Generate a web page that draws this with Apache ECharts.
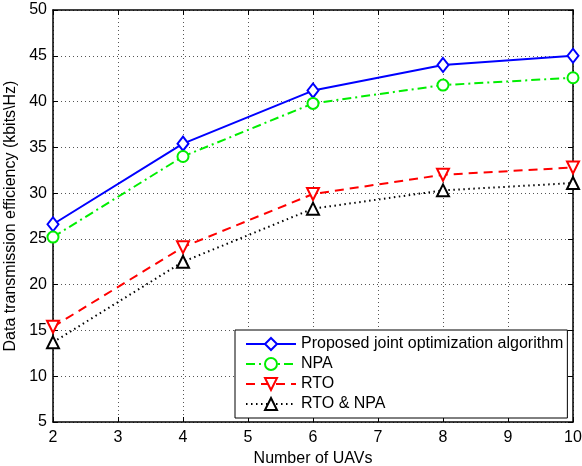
<!DOCTYPE html>
<html>
<head>
<meta charset="utf-8">
<script src="https://cdn.jsdelivr.net/npm/echarts@6/dist/echarts.min.js"></script>
<style>
  html, body { margin: 0; padding: 0; background: #fff; }
  #chart { width: 582px; height: 466px; }
</style>
</head>
<body>
<div id="chart"></div>
<script>
var uavs = [2, 4, 6, 8, 10];
var proposed = [26.6, 35.4, 41.2, 44.0, 45.0];
var npa = [25.2, 34.0, 39.8, 41.8, 42.6];
var rto = [15.4, 24.1, 29.9, 32.0, 32.8];
var rtoNpa = [13.7, 22.5, 28.3, 30.3, 31.1];

var font = 'Liberation Sans, Arial, Helvetica, sans-serif';

function pairs(vals) {
	return uavs.map(function(x, i){ return [x, vals[i]]; });
}

function makeSeries(name, vals, color, dash, symbol, size, rotate) {
	return {
		name: name,
		type: 'line',
		data: pairs(vals),
		symbol: symbol,
		symbolSize: size,
		symbolRotate: rotate || 0,
		showAllSymbol: true,
		lineStyle: { color: color, width: 2, type: dash },
		itemStyle: { color: '#fff', borderColor: color, borderWidth: 2 },
		emphasis: { disabled: true },
		animation: false,
		z: 3
	};
}

var chart = echarts.init(document.getElementById('chart'));
var gridLine = { show: true, lineStyle: { color: '#555', width: 1, type: [1, 3] } };
var option = {
	backgroundColor: '#fff',
	animation: false,
	grid: { left: 53, right: 9, top: 10, bottom: 44, containLabel: false, outerBoundsMode: 'none' },
	legend: {
		orient: 'vertical',
		left: 235,
		top: 330,
		itemWidth: 50,
		itemHeight: 15,
		itemGap: 4,
		padding: [6, 4, 6, 10],
		borderColor: '#000',
		borderWidth: 1,
		borderRadius: 0,
		backgroundColor: '#fff',
		textStyle: { fontFamily: font, fontSize: 16, color: '#000' },
		data: ['Proposed joint optimization algorithm', 'NPA', 'RTO', 'RTO & NPA']
	},
	xAxis: [{
		type: 'value',
		min: 2, max: 10, interval: 1,
		name: 'Number of UAVs',
		nameLocation: 'middle',
		nameGap: 27,
		nameTextStyle: { fontFamily: font, fontSize: 16, color: '#000' },
		axisLine: { onZero: false, lineStyle: { color: '#000', width: 1.5 } },
		axisTick: { inside: true, length: 5, lineStyle: { color: '#000' } },
		axisLabel: { fontFamily: font, fontSize: 16, color: '#000', margin: 8 },
		splitLine: gridLine
	}, {
		type: 'value', position: 'top',
		min: 2, max: 10, interval: 1,
		axisLine: { onZero: false, lineStyle: { color: '#000', width: 1.5 } },
		axisTick: { inside: true, length: 5, lineStyle: { color: '#000' } },
		axisLabel: { show: false },
		splitLine: { show: false }
	}],
	yAxis: [{
		type: 'value',
		min: 5, max: 50, interval: 5,
		name: 'Data transmission efficiency (kbits\\Hz)',
		nameLocation: 'middle',
		nameGap: 27,
		nameTextStyle: { fontFamily: font, fontSize: 16, color: '#000' },
		axisLine: { show: true, onZero: false, lineStyle: { color: '#000', width: 1.5 } },
		axisTick: { show: true, inside: true, length: 5, lineStyle: { color: '#000' } },
		axisLabel: { fontFamily: font, fontSize: 16, color: '#000', margin: 6 },
		splitLine: gridLine
	}, {
		type: 'value', position: 'right',
		min: 5, max: 50, interval: 5,
		axisLine: { show: true, onZero: false, lineStyle: { color: '#000', width: 1.5 } },
		axisTick: { show: true, inside: true, length: 5, lineStyle: { color: '#000' } },
		axisLabel: { show: false },
		splitLine: { show: false }
	}],
	series: [
		makeSeries('Proposed joint optimization algorithm', proposed, '#0000ff', 'solid', 'diamond', [11, 14]),
		makeSeries('NPA', npa, '#00ee00', [9, 4, 2, 4], 'circle', 11),
		makeSeries('RTO', rto, '#ff0000', [9, 6], 'triangle', 12, 180),
		makeSeries('RTO & NPA', rtoNpa, '#000000', [1.5, 3.5], 'triangle', 12)
	]
};
chart.setOption(option);
</script>
</body>
</html>
